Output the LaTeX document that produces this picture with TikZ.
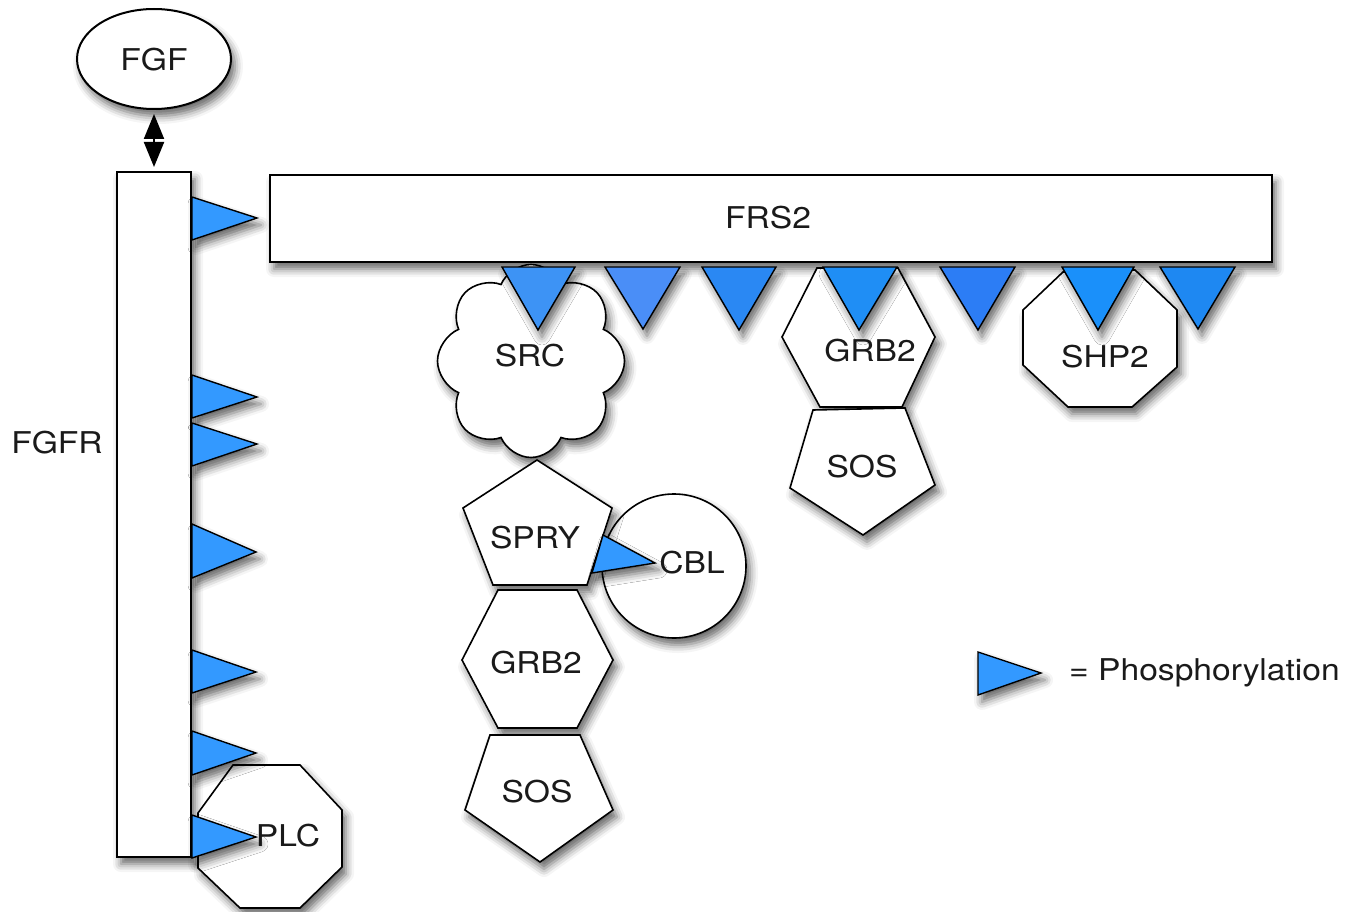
\documentclass[tikz,border=0pt]{standalone}
\usepackage{fontspec}
\setmainfont{TeX Gyre Heros}[FakeStretch=1.12]
\usetikzlibrary{shapes.geometric,shapes.symbols,shadows.blur,arrows.meta}
\definecolor{pb}{HTML}{3399FF}
\definecolor{pa}{HTML}{3D93F5}
\definecolor{pc}{HTML}{4A8EF7}
\definecolor{pd}{HTML}{2A88F3}
\definecolor{pe}{HTML}{1F8EF5}
\definecolor{pf}{HTML}{2C7DF5}
\definecolor{pg}{HTML}{1A90FA}
\definecolor{ph}{HTML}{1E88F2}
\definecolor{txt}{HTML}{1A1A1A}
\begin{document}
\begin{tikzpicture}[x=1pt,y=-1pt,
  shad/.style={blur shadow={shadow xshift=4pt,shadow yshift=-7pt,shadow blur radius=8pt,shadow opacity=60}},
  mol/.style={draw=black,line width=1.6pt,fill=white,line join=miter,shad},
  box/.style={mol,line width=2pt,inner sep=0pt},
  phos/.style={draw=black,line width=1.4pt,line join=miter,shad},
  lbl/.style={font=\fontsize{30}{36}\selectfont,text=txt,inner sep=0pt},
  dblarrow/.style={line width=2pt,{Triangle[width=20pt,length=25pt]}-{Triangle[width=20pt,length=25pt]},shorten <=4pt,shorten >=4pt}
]
\useasboundingbox (0,0) rectangle (1351,912);
% FGF and FGFR
\node[box,ellipse,minimum width=154pt,minimum height=100pt] (fgf) at (154,59) {};
\node[box,minimum width=74pt,minimum height=685pt] (fgfr) at (154,514.5) {};
\draw[dblarrow] (fgf.south) -- (fgfr.north);
% FRS2
\node[box,minimum width=1002pt,minimum height=87pt] (frs2) at (771,218.5) {};
% PLC
\draw[mol] (233,765) -- (300,765) -- (342,810) -- (342,867) -- (300,908) -- (240,908) -- (198,868) -- (198,813) -- cycle;
% FGFR phosphorylations
\draw[phos,fill=pb] (192,197) -- (257,218) -- (192,240) -- cycle;
\draw[phos,fill=pb] (192,375) -- (257,397) -- (192,418) -- cycle;
\draw[phos,fill=pb] (192,423) -- (257,444) -- (192,466) -- cycle;
\draw[phos,fill=pb] (192,524) -- (256,552) -- (192,578) -- cycle;
\draw[phos,fill=pb] (192,650) -- (256,672) -- (192,693) -- cycle;
\draw[phos,fill=pb] (192,731) -- (256,753) -- (192,775) -- cycle;
\draw[phos,fill=pb] (192,815) -- (256,837) -- (192,858) -- cycle;
% SRC cloud
\node[mol,cloud,cloud puffs=8,cloud puff arc=135,aspect=1,minimum width=187pt,minimum height=193pt,inner sep=0pt,shape border rotate=22] (srccloud) at (531,361) {};
% right group
\draw[mol] (817,268) -- (898,268) -- (935,337) -- (902,407) -- (820,407) -- (782,337) -- cycle;
\draw[mol] (813,410) -- (905,408) -- (935,485) -- (863,535) -- (790,488) -- cycle;
\draw[mol] (1063,272) -- (1135,270) -- (1177,310) -- (1177,367) -- (1132,407) -- (1068,407) -- (1023,365) -- (1023,310) -- cycle;
% left group
\node[mol,circle,minimum size=144pt,inner sep=0pt] (cblcirc) at (674,566) {};
\draw[mol] (537,460) -- (612,508) -- (587,585) -- (493,585) -- (463,508) -- cycle;
\draw[mol] (498,590) -- (577,590) -- (613,660) -- (577,728) -- (498,728) -- (462,660) -- cycle;
\draw[mol] (490,735) -- (580,735) -- (613,810) -- (540,862) -- (465,810) -- cycle;
% FRS2 phosphorylations
\draw[phos,fill=pa] (502,267) -- (575,267) -- (538,330) -- cycle;
\draw[phos,fill=pc] (605,267) -- (680,267) -- (643,329) -- cycle;
\draw[phos,fill=pd] (702,267) -- (776,267) -- (739,330) -- cycle;
\draw[phos,fill=pe] (823,267) -- (897,267) -- (859,330) -- cycle;
\draw[phos,fill=pf] (940,267) -- (1015,267) -- (978,330) -- cycle;
\draw[phos,fill=pg] (1062,267) -- (1134,267) -- (1098,330) -- cycle;
\draw[phos,fill=ph] (1160,267) -- (1235,267) -- (1198,329) -- cycle;
% CBL phosphorylation
\draw[phos,fill=pb] (603,535) -- (655,563) -- (592,573) -- cycle;
% labels
\node[lbl] (fgflbl) at (154,60) {FGF};
\node[lbl] (fgfrlbl) at (57,443) {FGFR};
\node[lbl] (frs2lbl) at (768,218) {FRS2};
\node[lbl] (srclbl) at (530,356) {SRC};
\node[lbl] (sprylbl) at (535,538) {SPRY};
\node[lbl] (cbllbl) at (692,563) {CBL};
\node[lbl] (grbalbl) at (536,663) {GRB2};
\node[lbl] (sosalbl) at (537,792) {SOS};
\node[lbl] (grbblbl) at (870,351) {GRB2};
\node[lbl] (sosblbl) at (862,467) {SOS};
\node[lbl] (shp2lbl) at (1105,357) {SHP2};
\node[lbl] (plclbl) at (288,836) {PLC};
% legend
\draw[phos,fill=pb] (978,652) -- (1041,673) -- (978,695) -- cycle;
\node[lbl,anchor=west] (legend) at (1069,673) {= Phosphorylation};
\end{tikzpicture}
\end{document}
